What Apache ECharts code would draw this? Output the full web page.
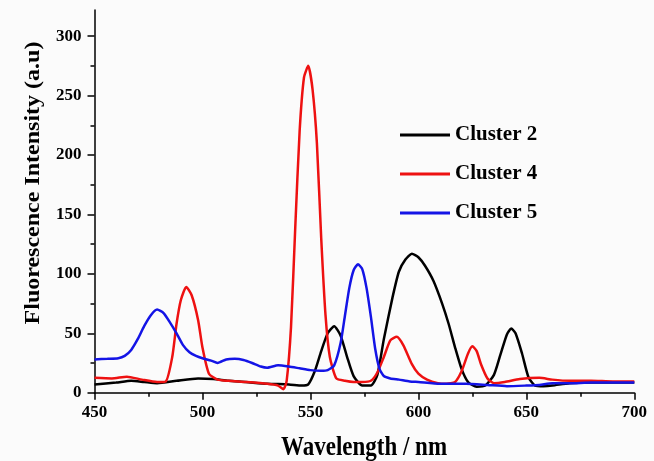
<!DOCTYPE html>
<html>
<head>
<meta charset="utf-8">
<script src="https://cdn.jsdelivr.net/npm/echarts@6/dist/echarts.min.js"></script>
<style>
  html, body { margin: 0; padding: 0; background: #fbfbfb; }
  #main { width: 654px; height: 461px; }
</style>
</head>
<body>
<div id="main"></div>
<script>
// data (wavelength nm / intensity a.u)
var c2Wave = [450,460,467,473,479,488,498,505,512,520,530,540,546,549,552,555,558,561,564,567,570,574,578,581,584,588,591,594,597,600,603,607,611,614,617,620,623,627,631,635,638,641,643,645,648,651,654,658,662,670,680,690,700];
var c2Int  = [7,8.5,10,9,8,10,12,11.5,10,9,7.5,7,6,7,18,35,50,56,48,30,14,6,6,15,45,80,102,112,117,114,107,94,75,58,38,20,9,5,6,15,32,49,54,50,33,13,6,5.5,6,8,8.5,8.5,8.5];

var c4Wave = [450,458,465,472,479,483,486,488,490,492.5,495,498,500,503,507,512,520,530,535,537.5,539,541,543,545,547,549,551,553,555,557,559,562,566,570,574,578,581,584,587,590,593,597,600,604,609,613,617,620,623,625,627,629,632,635,640,647,656,662,670,680,690,700];
var c4Int  = [12.5,12,13.5,11,9,9.5,30,58,78,89,82,61,38,16,11,10,9,7.5,6,3,10,55,140,220,265,275,255,210,130,65,30,12,10,9,9,10,17,30,44,47,40,24,16,11,8,7.5,9,18,33,39,35,24,12,8,9,11.5,12.5,11,10,10,9.5,9.5];

var c5Wave = [450,456,461,464,467,470,473,476,479,482,485,488,491,494,497,500,504,507,511,515,519,523,527,530,535,540,545,550,555,558,561,564,566,568,570,572,574,576,578,580,582,584,587,591,596,600,610,622,632,641,650,656,662,670,680,690,700];
var c5Int  = [28,28.5,29,31,36,45,56,65,70,67,59,50,40,34,31,29,27,25,28,28.5,27.5,25,22,21,23,22,20.5,19,18.5,19,23,42,65,88,103,108,104,88,64,37,20,14,12,11,9.5,9,7.5,7.5,6.5,5.5,6,6.5,8,8,8.5,8.5,8.5];

var names = ['Cluster 2', 'Cluster 4', 'Cluster 5'];
var colors = ['#000000', '#ee1111', '#1414e6'];
var yTicks = [0, 50, 100, 150, 200, 250, 300];

function pairs(xs, ys) {
    return xs.map(function (x, i) { return [x, ys[i]]; });
}

var serif = '"Liberation Serif", "Times New Roman", serif';
var myChart = echarts.init(document.getElementById('main'));

var lines = [pairs(c2Wave, c2Int), pairs(c4Wave, c4Int), pairs(c5Wave, c5Int)];

var option = {
    backgroundColor: '#fbfbfb',
    animation: false,
    grid: { left: 94.5, right: 19.7, top: 10, bottom: 68.3 },
    legend: {
        orient: 'vertical',
        left: 395,
        top: 119,
        icon: 'rect',
        itemWidth: 50,
        itemHeight: 3,
        itemGap: 17,
        textStyle: { fontFamily: serif, fontWeight: 'bold', fontSize: 21, color: '#000', lineHeight: 22 },
        data: names
    },
    xAxis: {
        type: 'value',
        min: 450, max: 700, interval: 50,
        axisLine: { lineStyle: { color: '#000', width: 1.5 } },
        axisTick: { length: 7, lineStyle: { color: '#000', width: 1.5 } },
        minorTick: { show: true, splitNumber: 2, length: 4, lineStyle: { color: '#000', width: 1.5 } },
        splitLine: { show: false },
        axisLabel: { fontFamily: serif, fontWeight: 'bold', fontSize: 17, color: '#000', margin: 11 }
    },
    yAxis: {
        type: 'value',
        min: 0, max: 322, interval: 50,
        axisLine: { show: true, lineStyle: { color: '#000', width: 1.5 } },
        axisTick: { show: true, length: 7, customValues: yTicks, lineStyle: { color: '#000', width: 1.5 } },
        minorTick: { show: true, splitNumber: 2, length: 4, lineStyle: { color: '#000', width: 1.5 } },
        splitLine: { show: false },
        axisLabel: { fontFamily: serif, fontWeight: 'bold', fontSize: 17, color: '#000', margin: 13, customValues: yTicks }
    },
    graphic: [
        {
            type: 'text', x: 364, y: 448, scaleY: 1.2,
            style: { text: 'Wavelength / nm', fontFamily: serif, fontWeight: 'bold', fontSize: 23, fill: '#000', textAlign: 'center', textVerticalAlign: 'middle' }
        },
        {
            type: 'text', x: 34, y: 183, rotation: Math.PI / 2, scaleX: 1.2,
            style: { text: 'Fluorescence Intensity (a.u)', fontFamily: serif, fontWeight: 'bold', fontSize: 20, fill: '#000', textAlign: 'center', textVerticalAlign: 'middle' }
        }
    ],
    series: []
};

for (var i = 0; i < names.length; i++) {
    option.series.push({
        name: names[i],
        type: 'line',
        data: lines[i],
        smooth: 0.2,
        symbol: 'none',
        lineStyle: { color: colors[i], width: 2.5 },
        itemStyle: { color: colors[i] }
    });
}

myChart.setOption(option);
</script>
</body>
</html>
